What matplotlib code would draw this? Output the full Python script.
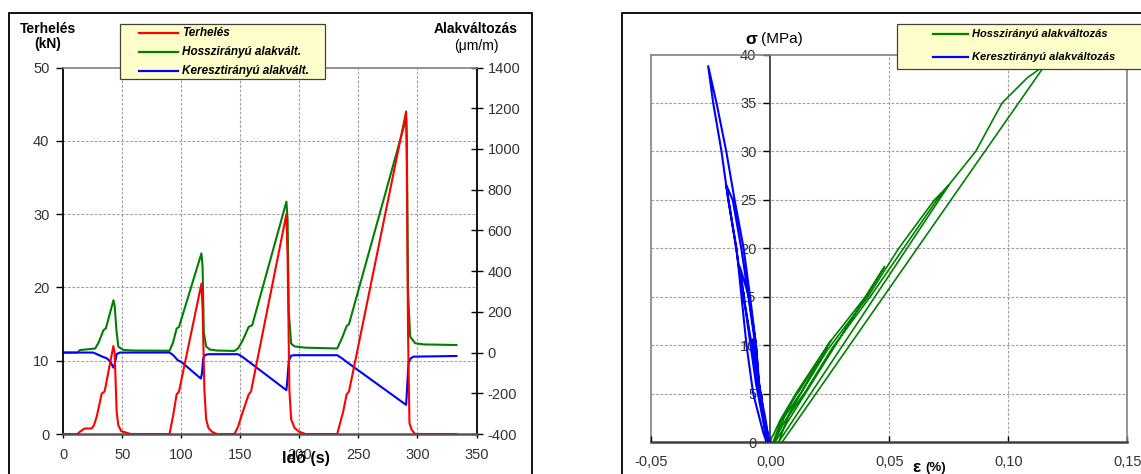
import matplotlib
matplotlib.use("Agg")
import matplotlib.pyplot as plt
from matplotlib.patches import Rectangle
from matplotlib.lines import Line2D
from matplotlib.ticker import FuncFormatter
from matplotlib.transforms import blended_transform_factory

plt.rcParams['font.family'] = ['Liberation Sans', 'DejaVu Sans']
plt.rcParams['axes.unicode_minus'] = False

# ---------------- data: left chart (time series) ----------------
terheles_t = [0, 12, 14, 18, 24, 26, 28.5, 32.5, 35, 42.4, 43.5, 45.2, 46.6, 49, 57,
              90, 93, 96, 98, 117, 118, 119.5, 121, 123, 126, 130,
              145, 148, 152, 157, 159, 189, 190, 191.5, 193, 196, 200, 205,
              232, 237, 240, 242, 290.4, 291, 292, 293.2, 295, 298, 333]
terheles_kN = [0, 0, 0.3, 0.75, 0.75, 1.2, 2.5, 5.5, 5.8, 12, 11, 3, 1.2, 0.4, 0,
               0, 2.5, 5.4, 5.8, 20.5, 17, 6, 2, 0.8, 0.3, 0,
               0, 1, 3, 5.4, 5.8, 30, 24, 6, 2, 0.8, 0.3, 0,
               0, 3, 5.4, 5.8, 44, 36, 14, 1.5, 0.6, 0, 0]

hossz_t = [0, 12, 14, 24, 27, 30, 34, 36, 42.5, 43.5, 45, 46.6, 50.8, 60, 90,
           93, 96, 98, 117, 118, 119, 121, 124, 130, 145,
           148, 152, 157, 160, 189, 190, 191, 193, 196, 205, 232,
           236, 240, 242, 290.5, 291, 292, 293.8, 298, 305, 333]
hossz_um = [0, 0, 12, 18, 20, 50, 110, 118, 257, 230, 110, 29, 13, 10, 9,
            50, 118, 126, 487, 420, 100, 30, 15, 10, 8,
            20, 60, 126, 134, 741, 650, 200, 44, 30, 24, 20,
            70, 130, 140, 1151, 1050, 300, 78, 46, 40, 37]

kereszt_t = [0, 25.4, 30, 33, 36.8, 40, 42.4, 43.5, 45.2, 48,
             90, 93, 97, 100, 116.5, 117.5, 118.5, 120, 123, 148,
             152, 189, 190, 191, 193, 196, 232, 236, 240,
             290.4, 292.4, 294, 296.6, 333]
kereszt_um = [0, 0, -12, -20, -28, -45, -74, -60, -7, 0,
              0, -12, -38, -46, -128, -100, -30, -12, -8, -8,
              -22, -185, -120, -40, -15, -13, -13, -28, -46,
              -257, -53, -30, -20, -17]

left_xticks = [0, 50, 100, 150, 200, 250, 300, 350]
left_yticks = [0, 10, 20, 30, 40, 50]
right_yticks = [-400, -200, 0, 200, 400, 600, 800, 1000, 1200, 1400]

# ---------------- data: right chart (stress-strain) ----------------
hossz_eps = [0, 0.0008, 0.0012, 0.0040, 0.0105, 0.0115, 0.0255, 0.0012,
             0.0045, 0.0110, 0.0120, 0.0250, 0.0400, 0.0480, 0.0020,
             0.0030, 0.0060, 0.0120, 0.0130, 0.0240, 0.0410, 0.0540, 0.0690, 0.0750, 0.0035,
             0.0075, 0.0135, 0.0145, 0.0260, 0.0420, 0.0560, 0.0700, 0.0863, 0.0974, 0.1080,
             0.1154, 0.0050]
hossz_sig = [0, 0.6, 0.7, 2.2, 4.9, 5.3, 10.5, 0,
             2.2, 4.9, 5.2, 10.3, 15, 18.1, 0,
             0.8, 2.6, 4.8, 5.1, 9.5, 15, 20, 25, 26.5, 0,
             2.6, 4.8, 5.1, 9.7, 15, 20, 25, 30, 35, 37.6,
             38.9, 0]

kereszt_eps = [0, -0.0012, -0.0018, -0.0028, -0.0038, -0.0044, -0.0075,
               -0.0060, -0.0030, -0.0004,
               -0.0013, -0.0028, -0.0038, -0.0044, -0.0060, -0.0090, -0.0128,
               -0.0105, -0.0065, -0.0030, -0.0008,
               -0.0010, -0.0022, -0.0040, -0.0046, -0.0063, -0.0092, -0.0122, -0.0158, -0.0185,
               -0.0150, -0.0100, -0.0060, -0.0013,
               -0.0028, -0.0040, -0.0046, -0.0060, -0.0085, -0.0112, -0.0150, -0.0185, -0.0226,
               -0.0261, -0.0240, -0.0205, -0.0177, -0.0142, -0.0121, -0.0100, -0.0072,
               -0.0030, -0.0016]
kereszt_sig = [0, 0.6, 0.75, 2.2, 4.9, 5.5, 10.6,
               8, 3, 0,
               1, 2.5, 4.9, 5.2, 10, 15, 18.1,
               14, 8, 3, 0,
               0.8, 2.6, 4.8, 5.1, 10, 15, 20, 25, 26.5,
               21, 13, 6, 0,
               2.6, 4.8, 5.1, 10, 15, 20, 25, 30, 35,
               38.8, 35, 30, 25, 20, 15, 10, 5,
               1, 0]

eps_ticks = [-0.05, 0.0, 0.05, 0.10, 0.15]
sig_ticks = [0, 5, 10, 15, 20, 25, 30, 35, 40]

RED, GREEN, BLUE = '#FF0000', '#008000', '#0000FF'
GRID = dict(color='#A0A0A0', linestyle=(0, (2.5, 1.5)), linewidth=0.8)
TICKCOL = '#333333'

W, H = 1141, 474
fig = plt.figure(figsize=(W / 100, H / 100), dpi=100)


def fx(px):
    return px / W


def fy(py):
    return 1 - py / H


def frame(x0, y0, x1, y1, **kw):
    r = Rectangle((fx(x0), fy(y1)), fx(x1) - fx(x0), fy(y0) - fy(y1),
                  transform=fig.transFigure, **kw)
    fig.add_artist(r)
    return r


def legend_box(x0, y0, x1, y1, entries, lx0, lx1, tx, fs):
    frame(x0, y0, x1, y1, facecolor='#FFFFCC', edgecolor='#404040', lw=0.9, zorder=5)
    for (label, color, yy) in entries:
        fig.add_artist(Line2D([fx(lx0), fx(lx1)], [fy(yy), fy(yy)], color=color,
                              lw=1.6, transform=fig.transFigure, zorder=6))
        fig.text(fx(tx), fy(yy), label, fontsize=fs, fontweight='bold', fontstyle='italic',
                 ha='left', va='center', zorder=7)


# outer chart frames
frame(9, 13, 531.6, 490, fill=False, edgecolor='black', lw=1.3)
frame(622, 13, 1160, 490, fill=False, edgecolor='black', lw=1.3)

# ================= LEFT CHART =================
ax = fig.add_axes([fx(63.3), fy(434), (476.5 - 63.3) / W, (434 - 67.5) / H])
ax2 = ax.twinx()
ax.set_zorder(ax2.get_zorder() + 1)
ax.patch.set_visible(False)

ax.set_xlim(0, 350)
ax.set_ylim(0, 50)
ax2.set_ylim(-400, 1400)
ax.set_xticks(left_xticks)
ax.set_yticks(left_yticks)
ax2.set_yticks(right_yticks)

# grid drawn in the lower (strain) axes so that all curves lie above it
grid_trans = blended_transform_factory(ax2.transAxes, ax.transData)
for v in left_xticks[1:-1]:
    ax2.axvline(v, zorder=0.5, **GRID)
for v in left_yticks[1:-1]:
    ax2.plot([0, 1], [v, v], transform=grid_trans, zorder=0.5, **GRID)

ax2.plot(hossz_t, hossz_um, color=GREEN, lw=1.5, zorder=2)
ax2.plot(kereszt_t, kereszt_um, color=BLUE, lw=1.5, zorder=3)
ax.plot(terheles_t, terheles_kN, color=RED, lw=1.5, zorder=4)

ax.spines['left'].set_color('black')
ax.spines['left'].set_linewidth(1.3)
ax.spines['bottom'].set_color('#555555')
ax.spines['bottom'].set_linewidth(1.8)
ax.spines['top'].set_color('#808080')
ax.spines['top'].set_linewidth(1.2)
ax.spines['right'].set_visible(False)
for s in ['left', 'top', 'bottom']:
    ax2.spines[s].set_visible(False)
ax2.spines['right'].set_color('black')
ax2.spines['right'].set_linewidth(1.3)

ax.tick_params(axis='y', direction='out', length=5, width=1, pad=5,
               labelsize=10.5, labelcolor=TICKCOL)
ax.tick_params(axis='x', direction='out', length=3, width=1, pad=7,
               labelsize=10.5, labelcolor=TICKCOL)
ax2.tick_params(axis='y', direction='inout', length=8, width=1, pad=4,
                labelsize=10.5, labelcolor=TICKCOL)

fig.text(fx(48.5), fy(29), 'Terhelés', fontsize=10, fontweight='bold', ha='center', va='center')
fig.text(fx(48), fy(44), '(kN)', fontsize=10, fontweight='bold', ha='center', va='center')
fig.text(fx(475.5), fy(29), 'Alakváltozás', fontsize=10, fontweight='bold', ha='center', va='center')
fig.text(fx(476), fy(46), '(μm/m)', fontsize=10, ha='center', va='center')
fig.text(fx(305.5), fy(458), 'Idő (s)', fontsize=11.5, fontweight='bold', ha='center', va='center', zorder=8)

legend_box(120, 24, 324.7, 79,
           [('Terhelés', RED, 33), ('Hosszirányú alakvált.', GREEN, 52),
            ('Keresztirányú alakvált.', BLUE, 71)],
           139, 178, 182, 8.5)

# ================= RIGHT CHART =================
bx = fig.add_axes([fx(651.3), fy(442), 476 / W, 387.5 / H])
bx.plot(hossz_eps, hossz_sig, color=GREEN, lw=1.2, zorder=2)
bx.plot(kereszt_eps, kereszt_sig, color=BLUE, lw=1.5, zorder=3)
bx.set_xlim(-0.05, 0.15)
bx.set_ylim(0, 40)
bx.set_xticks(eps_ticks)
bx.set_yticks(sig_ticks)


def comma_fmt(v, pos):
    if abs(v) < 1e-9:
        v = 0.0
    return f"{v:.2f}".replace('.', ',')


bx.xaxis.set_major_formatter(FuncFormatter(comma_fmt))
for v in eps_ticks[2:-1]:
    bx.axvline(v, zorder=0.5, **GRID)
for v in sig_ticks[1:-1]:
    bx.axhline(v, zorder=0.5, **GRID)
bx.axvline(-0.05, color='#808080', lw=1.2, zorder=1, clip_on=False)

bx.spines['left'].set_position(('data', 0))
bx.spines['left'].set_color('#404040')
bx.spines['left'].set_linewidth(1.3)
bx.spines['bottom'].set_color('#404040')
bx.spines['bottom'].set_linewidth(1.8)
for s in ['top', 'right']:
    bx.spines[s].set_color('#808080')
    bx.spines[s].set_linewidth(1.2)

bx.tick_params(axis='y', direction='out', length=5, width=1, pad=5,
               labelsize=10.5, labelcolor=TICKCOL)
bx.tick_params(axis='x', direction='in', length=4, width=1, pad=9,
               labelsize=10.5, labelcolor=TICKCOL)

fig.text(fx(745), fy(39), 'σ', fontsize=12.5, fontweight='bold', ha='left', va='center')
fig.text(fx(802.5), fy(39), '(MPa)', fontsize=11, ha='right', va='center')
fig.text(fx(912), fy(467), 'ε', fontsize=12.5, fontweight='bold', ha='left', va='center')
fig.text(fx(925), fy(468), '(%)', fontsize=9.5, fontweight='bold', ha='left', va='center')

legend_box(897, 24, 1150, 69,
           [('Hosszirányú alakváltozás', GREEN, 34), ('Keresztirányú alakváltozás', BLUE, 57)],
           932.5, 968, 972, 8)

fig.savefig('out.png', dpi=100)
